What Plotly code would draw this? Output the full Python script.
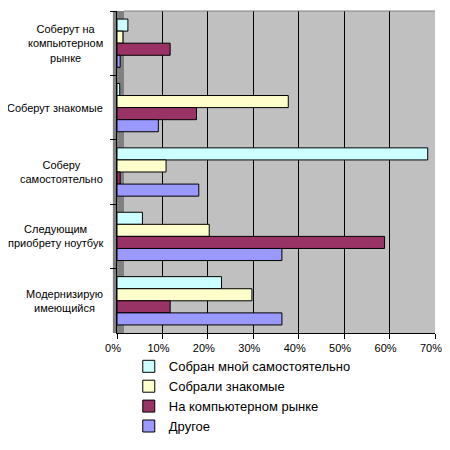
import plotly.graph_objects as go

categories = [
    "Соберут на<br>компьютерном<br>рынке",
    "Соберут знакомые",
    "Соберу<br>самостоятельно",
    "Следующим<br>приобрету ноутбук",
    "Модернизирую<br>имеющийся",
]
series_names = [
    "Собран мной самостоятельно",
    "Собрали знакомые",
    "На компьютерном рынке",
    "Другое",
]
self_built = [0.024, 0.006, 0.684, 0.056, 0.230]
friends = [0.013, 0.377, 0.108, 0.203, 0.297]
market = [0.117, 0.175, 0.007, 0.589, 0.117]
other = [0.007, 0.091, 0.180, 0.363, 0.363]
x_ticks = [0, 0.1, 0.2, 0.3, 0.4, 0.5, 0.6, 0.7]

COLORS = ["#ccffff", "#ffffcc", "#993366", "#9999ff"]
FAMILY = "Liberation Sans, Arial, sans-serif"
FONT = dict(family=FAMILY, size=11, color="#000000")

fig = go.Figure()
for name, vals, col in zip(series_names, [self_built, friends, market, other], COLORS):
    fig.add_trace(go.Bar(
        x=vals, y=categories, orientation="h", name=name, legendgroup=name,
        marker=dict(color=col, line=dict(color="#000000", width=1)),
        hoverinfo="x+name"))

# category labels, centred like the original
for cat in categories:
    fig.add_annotation(x=0, xref="paper", y=cat, yref="y", text=cat,
                       showarrow=False, xanchor="right", align="center",
                       xshift=-12, font=FONT)

# darker left wall and top edge of the 3d box
fig.add_shape(type="rect", xref="paper", yref="paper", x0=-0.013, x1=0.022,
              y0=0, y1=1, fillcolor="#808080", line_width=0, layer="below")
fig.add_shape(type="line", xref="paper", yref="paper", x0=0.022, x1=1,
              y0=1, y1=1, line=dict(color="#808080", width=1))

# page body has an 8px margin: keep the figure inside the window (no scrollbar)
fig.update_layout(
    width=442, height=434, barmode="group", bargap=0.25, bargroupgap=0,
    paper_bgcolor="#ffffff", plot_bgcolor="#c0c0c0", font=FONT,
    margin=dict(l=109, r=15, t=3, b=109, autoexpand=False),
    showlegend=True,
    legend=dict(x=0.037, y=-0.057, xanchor="left", yanchor="top",
                font=dict(family=FAMILY, size=13), bgcolor="rgba(0,0,0,0)",
                traceorder="normal", tracegroupgap=5),
    xaxis=dict(range=[0, 0.7], tickvals=x_ticks, tickformat=".0%",
               tickfont=dict(family=FAMILY, size=11), ticklabelshift=-4,
               showgrid=True, gridcolor="#000000", gridwidth=1,
               showline=True, linecolor="#000000", ticks="outside",
               ticklen=5, tickcolor="#000000", zeroline=False,
               mirror=False, fixedrange=True),
    yaxis=dict(autorange="reversed", showticklabels=False, showgrid=False,
               showline=True, linecolor="#000000", ticks="outside",
               tickson="boundaries", ticklen=6, tickcolor="#000000",
               fixedrange=True),
)

fig.write_html("out.html")
